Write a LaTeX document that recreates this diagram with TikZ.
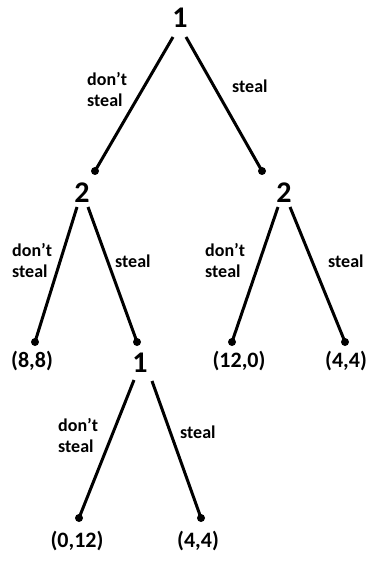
\documentclass[tikz,border=0pt]{standalone}
\usepackage{fontspec}
\setmainfont{Carlito}
\begin{document}
\begin{tikzpicture}[x=1pt,y=-1pt,
  dot/.style={circle,fill=black,inner sep=0pt,minimum size=8pt},
  player/.style={font=\bfseries\fontsize{30}{30}\selectfont,inner sep=0pt,anchor=base},
  payoff/.style={font=\bfseries\fontsize{22}{22}\selectfont,inner sep=0pt,anchor=base},
  act/.style={font=\bfseries\fontsize{18}{21}\selectfont,inner sep=0pt,align=left},
  branch/.style={line width=3pt}]
\useasboundingbox (0,0) rectangle (371,561);
% player labels
\node[player] (p1) at (180,28) {1};
\node[player] (p2l) at (82,203) {2};
\node[player] (p2r) at (284,203) {2};
\node[player] (p1b) at (140,372) {1};
% line starts
\coordinate (s1l) at (173,37);
\coordinate (s1r) at (186,37);
\coordinate (s2ll) at (77,207);
\coordinate (s2lr) at (88,207);
\coordinate (s2rl) at (278,207);
\coordinate (s2rr) at (290,207);
\coordinate (s3l) at (134,380);
\coordinate (s3r) at (152,381);
% dots
\node[dot] (d2l) at (95,171) {};
\node[dot] (d2r) at (262,171) {};
\node[dot] (d88) at (35,342) {};
\node[dot] (d1b) at (137,342) {};
\node[dot] (d120) at (232,342) {};
\node[dot] (d44a) at (345,342) {};
\node[dot] (d012) at (79,518) {};
\node[dot] (d44b) at (201,518) {};
% branches
\draw[branch] (s1l) -- (d2l.center);
\draw[branch] (s1r) -- (d2r.center);
\draw[branch] (s2ll) -- (d88.center);
\draw[branch] (s2lr) -- (d1b.center);
\draw[branch] (s2rl) -- (d120.center);
\draw[branch] (s2rr) -- (d44a.center);
\draw[branch] (s3l) -- (d012.center);
\draw[branch] (s3r) -- (d44b.center);
% action labels
\node[act,anchor=north west] (a1) at (87,72) {don’t\\steal};
\node[act,anchor=base west] (a2) at (232,93) {steal};
\node[act,anchor=north west] (a3) at (12,243) {don’t\\steal};
\node[act,anchor=base west] (a4) at (115,267) {steal};
\node[act,anchor=north west] (a5) at (205,243) {don’t\\steal};
\node[act,anchor=base west] (a6) at (328,267) {steal};
\node[act,anchor=north west] (a7) at (58,418) {don’t\\steal};
\node[act,anchor=base west] (a8) at (180,438) {steal};
% payoffs
\node[payoff] (o1) at (32,367) {(8,8)};
\node[payoff] (o2) at (239,367) {(12,0)};
\node[payoff] (o3) at (346,367) {(4,4)};
\node[payoff] (o4) at (77,547) {(0,12)};
\node[payoff] (o5) at (198,547) {(4,4)};
\end{tikzpicture}
\end{document}
